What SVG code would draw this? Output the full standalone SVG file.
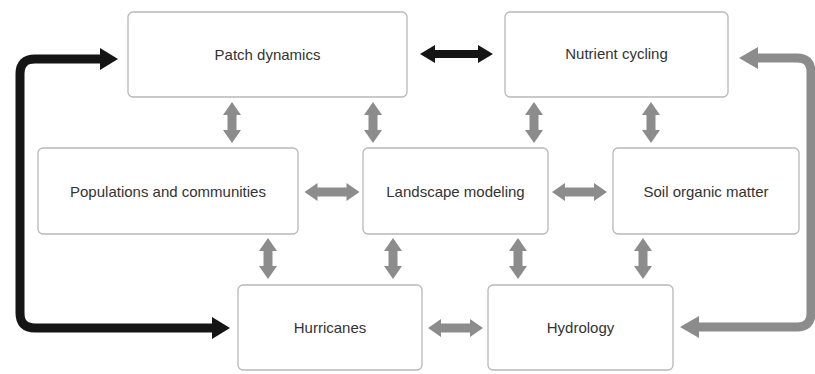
<svg xmlns="http://www.w3.org/2000/svg" xmlns:xlink="http://www.w3.org/1999/xlink" width="815" height="374" viewBox="0 0 815 374">
<style>
.box{fill:#fff;stroke:#b8b8b8;stroke-width:1.3}
.lbl{font-family:"Liberation Sans",Arial,sans-serif;font-size:15px;fill:#333;text-anchor:middle}
.g{fill:#8c8c8c}
.k{fill:#151515}
</style>
<defs>
<path id="va" d="M0,-20.5 L9,-7.5 L4.5,-7.5 L4.5,7.5 L9,7.5 L0,20.5 L-9,7.5 L-4.5,7.5 L-4.5,-7.5 L-9,-7.5 Z"/>
<path id="ha" d="M-27.5,0 L-14.5,-9 L-14.5,-4.5 L14.5,-4.5 L14.5,-9 L27.5,0 L14.5,9 L14.5,4.5 L-14.5,4.5 L-14.5,9 Z"/>
</defs>
<rect width="815" height="374" fill="#fff"/>
<g id="connectors">
<use href="#va" class="g" x="232" y="122.5"/>
<use href="#va" class="g" x="373" y="122.5"/>
<use href="#va" class="g" x="534" y="122.5"/>
<use href="#va" class="g" x="651" y="122.5"/>
<use href="#va" class="g" x="268" y="258.5"/>
<use href="#va" class="g" x="393" y="258.5"/>
<use href="#va" class="g" x="518" y="258.5"/>
<use href="#va" class="g" x="643" y="258.5"/>
<use href="#ha" class="g" x="332" y="192"/>
<use href="#ha" class="g" x="579.5" y="192"/>
<use href="#ha" class="g" x="455.5" y="328"/>
<path class="k" d="M420,54 L435,45 L435,50 L478,50 L478,45 L493,54 L478,63 L478,58 L435,58 L435,63 Z"/>
<path d="M101,59 H35 Q20,59 20,74 V313 Q20,328 35,328 H213" fill="none" stroke="#151515" stroke-width="9"/>
<polygon class="k" points="118,59 100,48 100,70"/>
<polygon class="k" points="230,328 212,317 212,339"/>
<path d="M757,58 H797 Q811,58 811,72 V313 Q811,327 797,327 H698" fill="none" stroke="#8c8c8c" stroke-width="9"/>
<polygon class="g" points="739,58 758,47 758,69"/>
<polygon class="g" points="680,327 699,316 699,338"/>
</g>
<g id="patch"><rect class="box" x="128" y="12" width="279" height="85" rx="5"/><text class="lbl" x="267.5" y="60">Patch dynamics</text></g>
<g id="nutrient"><rect class="box" x="505" y="12" width="223" height="85" rx="5"/><text class="lbl" x="616.5" y="59">Nutrient cycling</text></g>
<g id="populations"><rect class="box" x="38" y="148" width="260" height="86" rx="5"/><text class="lbl" x="168" y="197">Populations and communities</text></g>
<g id="landscape"><rect class="box" x="363" y="148" width="185" height="86" rx="5"/><text class="lbl" x="455.5" y="197">Landscape modeling</text></g>
<g id="soil"><rect class="box" x="613" y="148" width="186" height="86" rx="5"/><text class="lbl" x="706" y="197">Soil organic matter</text></g>
<g id="hurricanes"><rect class="box" x="238" y="285" width="184" height="85" rx="5"/><text class="lbl" x="330" y="333">Hurricanes</text></g>
<g id="hydrology"><rect class="box" x="488" y="285" width="185" height="85" rx="5"/><text class="lbl" x="580.5" y="333">Hydrology</text></g>
</svg>
